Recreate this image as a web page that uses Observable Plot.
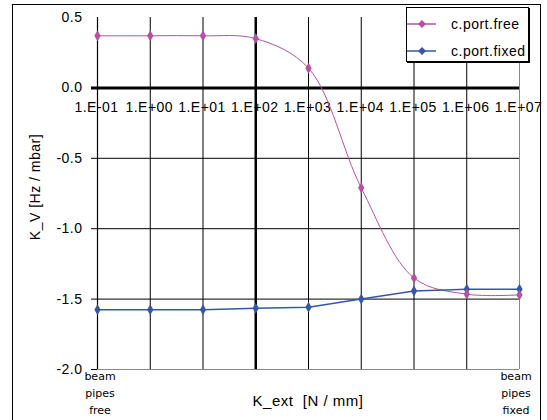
<!DOCTYPE html>
<html>
<head>
<meta charset="utf-8">
<script src="https://cdn.jsdelivr.net/npm/d3@7"></script>
<script src="https://cdn.jsdelivr.net/npm/@observablehq/plot@0.6"></script>
<style>
  html, body { margin: 0; padding: 0; background: #fff; overflow: hidden; }
  #wrap { position: relative; width: 547px; height: 420px; font-family: "Liberation Sans", Arial, sans-serif; }
  #wrap svg { position: absolute; left: 0; top: 0; }
  .frame { position: absolute; left: 12px; top: 4px; width: 529px; height: 440px; border: 1px solid #000; box-sizing: border-box; pointer-events: none; }
  .legend { position: absolute; left: 406px; top: 7px; width: 123px; height: 55px; border: 1px solid #000; box-shadow: 1px 1px 0 #000; background: #fff; box-sizing: border-box; }
  .legend .row { position: absolute; left: 0; height: 16px; }
  .legend .lbl { position: absolute; left: 44px; top: 0; font-size: 14px; letter-spacing: 0.5px; line-height: 16px; white-space: nowrap; color: #000; }
  .legend svg { position: absolute; left: 10px; top: 0; }
  .ytitle { position: absolute; left: 35px; top: 187px; transform: translate(-50%, -50%) rotate(-90deg); font-size: 14px; letter-spacing: 0.5px; white-space: nowrap; }
  .xtitle { position: absolute; left: 308px; top: 400px; transform: translate(-50%, -50%); font-size: 15px; letter-spacing: 0.5px; white-space: pre; }
  .end { position: absolute; font-family: "DejaVu Sans", sans-serif; font-size: 11px; line-height: 17px; text-align: center; transform: translateX(-50%); top: 368px; }
</style>
</head>
<body>
<div id="wrap"></div>
<script>
const xLabels = ["1.E-01", "1.E+00", "1.E+01", "1.E+02", "1.E+03", "1.E+04", "1.E+05", "1.E+06", "1.E+07"];
const freeValues = [0.37, 0.37, 0.37, 0.35, 0.14, -0.71, -1.35, -1.465, -1.47];
const fixedValues = [-1.575, -1.575, -1.575, -1.565, -1.558, -1.50, -1.442, -1.43, -1.43];
const yTicks = [0.5, 0, -0.5, -1, -1.5, -2];
const seriesNames = ["c.port.free", "c.port.fixed"];
const seriesColors = ["#B94FA0", "#3557A7"];
const endLabels = ["beam\npipes\nfree", "beam\npipes\nfixed"];
const xTitle = "K_ext  [N / mm]";
const yTitle = "K_V [Hz / mbar]";

const free = freeValues.map((v, i) => ({i, v}));
const fixed = fixedValues.map((v, i) => ({i, v}));
const idx = xLabels.map((d, i) => i);

const chart = Plot.plot({
  width: 547,
  height: 420,
  marginLeft: 97,
  marginRight: 28,
  marginTop: 17,
  marginBottom: 51,
  x: {domain: [0, xLabels.length - 1], axis: null},
  y: {domain: [-2, 0.5], axis: null},
  style: {fontFamily: "Liberation Sans, Arial, sans-serif", background: "transparent"},
  marks: [
    Plot.ruleY([-2], {stroke: "#888", strokeWidth: 1}),
    Plot.ruleY([-2], {stroke: "#000", insetLeft: -6, insetRight: 422}),
    Plot.ruleY([-0.5, -1, -1.5], {stroke: "#000", strokeWidth: 1, insetLeft: -6}),
    Plot.ruleX(idx.filter(i => i > 0 && i < 8 && i !== 3), {stroke: "#000", strokeWidth: 1}),
    Plot.ruleX([3], {stroke: "#000", strokeWidth: 2.5}),
    Plot.ruleX([8], {stroke: "#888", strokeWidth: 1}),
    Plot.ruleX([0], {stroke: "#000", strokeWidth: 1.2}),
    Plot.ruleY([0], {stroke: "#000", strokeWidth: 3, insetLeft: -6}),
    Plot.text(yTicks, {x: 0, y: d => d, text: d => d.toFixed(1), dx: -15, textAnchor: "end", fontSize: 14, fill: "#000", style: "letter-spacing:0.5px"}),
    Plot.text(xLabels, {x: (d, i) => i, y: 0, dy: 20, dx: -1, text: d => d, fontSize: 14, fill: "#000", textAnchor: "middle"}),
    Plot.line(free, {x: "i", y: "v", stroke: seriesColors[0], strokeWidth: 1, curve: "catmull-rom"}),
    Plot.line(fixed, {x: "i", y: "v", stroke: seriesColors[1], strokeWidth: 1.5}),
    Plot.dot(fixed, {x: "i", y: "v", symbol: "diamond", r: 3.3, fill: seriesColors[1]}),
    Plot.dot(free, {x: "i", y: "v", symbol: "diamond", r: 3.3, fill: seriesColors[0]})
  ]
});
chart.querySelectorAll("text").forEach(t => t.setAttribute("letter-spacing", "0.5"));

const wrap = document.getElementById("wrap");
wrap.appendChild(chart);

const frame = document.createElement("div");
frame.className = "frame";
wrap.appendChild(frame);

const yt = document.createElement("div");
yt.className = "ytitle";
yt.textContent = yTitle;
wrap.appendChild(yt);

const xt = document.createElement("div");
xt.className = "xtitle";
xt.textContent = xTitle;
wrap.appendChild(xt);

const endX = [100, 516];
endLabels.forEach((t, k) => {
  const d = document.createElement("div");
  d.className = "end";
  d.style.left = endX[k] + "px";
  d.innerHTML = t.split("\n").join("<br>");
  wrap.appendChild(d);
});

const leg = document.createElement("div");
leg.className = "legend";
seriesNames.forEach((name, k) => {
  const row = document.createElement("div");
  row.className = "row";
  row.style.top = (8 + k * 27) + "px";
  row.style.width = "120px";
  row.innerHTML = `<svg width="30" height="16"><line x1="0" y1="8" x2="29" y2="8" stroke="${seriesColors[k]}" stroke-width="1.5"/><path d="M15,4 L19,8 L15,12 L11,8 Z" fill="${seriesColors[k]}"/></svg><span class="lbl">${name}</span>`;
  leg.appendChild(row);
});
wrap.appendChild(leg);
</script>
</body>
</html>
